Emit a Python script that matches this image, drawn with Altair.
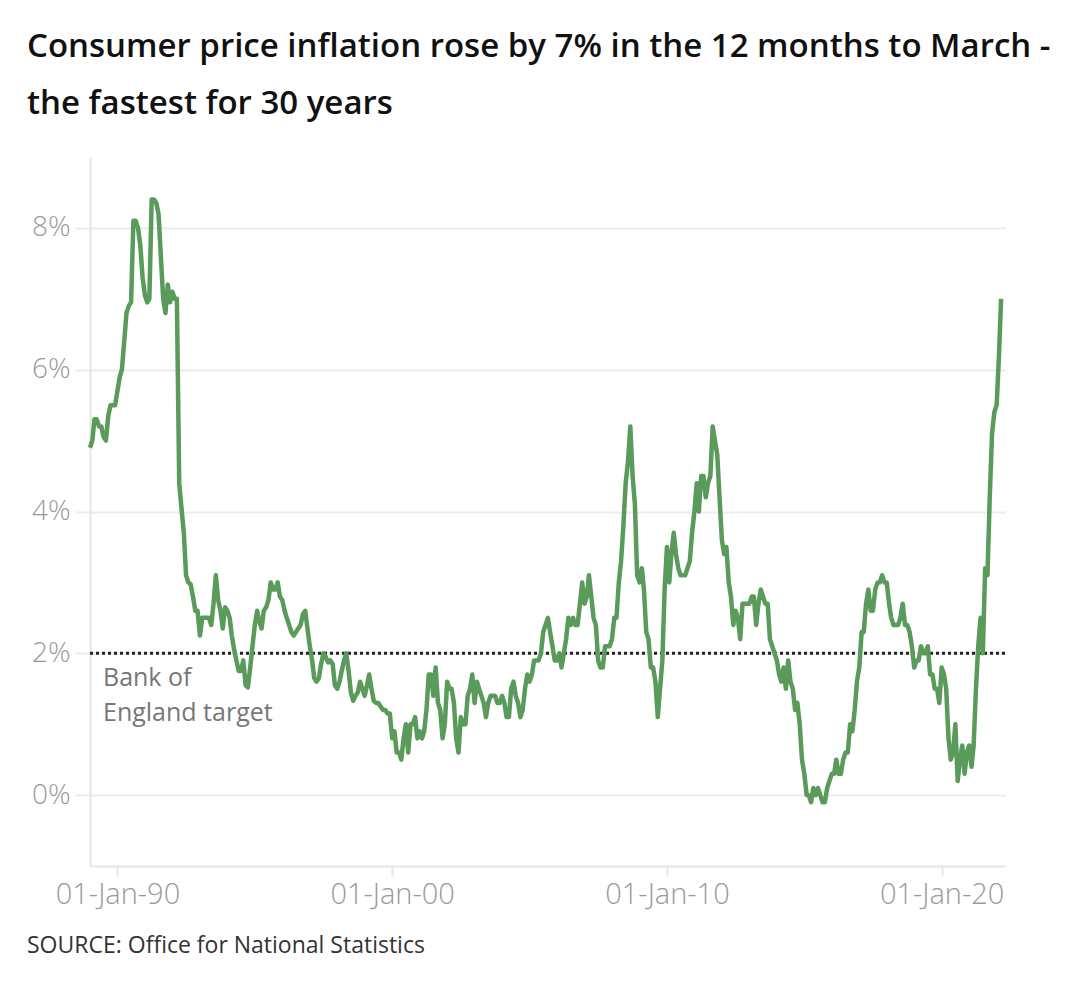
import altair as alt
import pandas as pd

# Annual CPI inflation rate (%), monthly
cpi_1989_1999 = [
    4.9, 5.0, 5.3, 5.3, 5.2, 5.2, 5.05, 5.0, 5.35, 5.5, 5.5, 5.5,      # 1989
    5.7, 5.9, 6.0, 6.4, 6.8, 6.9, 6.95, 8.1, 8.1, 8.0, 7.75, 7.3,      # 1990
    7.05, 6.95, 7.0, 8.4, 8.4, 8.35, 8.2, 7.6, 7.0, 6.8, 7.2, 6.95,    # 1991
    7.1, 7.0, 7.0, 4.4, 4.05, 3.7, 3.1, 3.0, 2.97, 2.8, 2.6, 2.6,      # 1992
    2.25, 2.5, 2.5, 2.5, 2.5, 2.4, 2.7, 3.1, 2.75, 2.6, 2.35, 2.65,    # 1993
    2.6, 2.5, 2.25, 2.05, 1.9, 1.75, 1.75, 1.9, 1.55, 1.52, 1.8, 2.1,  # 1994
    2.4, 2.6, 2.45, 2.35, 2.6, 2.65, 2.75, 3.0, 2.9, 2.9, 3.0, 2.8,    # 1995
    2.75, 2.6, 2.5, 2.4, 2.3, 2.25, 2.3, 2.35, 2.4, 2.55, 2.6, 2.35,   # 1996
    2.1, 1.9, 1.65, 1.6, 1.65, 1.85, 2.0, 1.95, 1.87, 1.9, 1.85, 1.55, # 1997
    1.5, 1.6, 1.75, 1.9, 2.0, 1.75, 1.45, 1.33, 1.4, 1.45, 1.6, 1.5,   # 1998
    1.4, 1.55, 1.7, 1.5, 1.33, 1.3, 1.3, 1.25, 1.2, 1.2, 1.15, 1.15,   # 1999
]
cpi_2000_2009 = [
    0.8, 0.9, 0.6, 0.6, 0.5, 0.8, 1.0, 0.6, 1.0, 1.0, 1.1, 0.8,  # 2000
    0.9, 0.8, 0.9, 1.2, 1.7, 1.7, 1.4, 1.8, 1.3, 1.2, 0.8, 1.0,  # 2001
    1.6, 1.5, 1.5, 1.3, 0.8, 0.6, 1.1, 1.0, 1.0, 1.4, 1.5, 1.7,  # 2002
    1.3, 1.6, 1.5, 1.4, 1.3, 1.1, 1.3, 1.4, 1.4, 1.4, 1.3, 1.3,  # 2003
    1.4, 1.3, 1.1, 1.1, 1.5, 1.6, 1.4, 1.3, 1.1, 1.2, 1.5, 1.7,  # 2004
    1.6, 1.7, 1.9, 1.9, 1.9, 2.0, 2.3, 2.4, 2.5, 2.3, 2.1, 1.9,  # 2005
    1.9, 2.0, 1.8, 2.0, 2.2, 2.5, 2.4, 2.5, 2.4, 2.4, 2.7, 3.0,  # 2006
    2.7, 2.8, 3.1, 2.8, 2.5, 2.4, 1.9, 1.8, 1.8, 2.1, 2.1, 2.1,  # 2007
    2.2, 2.5, 2.5, 3.0, 3.3, 3.8, 4.4, 4.7, 5.2, 4.5, 4.1, 3.1,  # 2008
    3.0, 3.2, 2.9, 2.3, 2.2, 1.8, 1.8, 1.6, 1.1, 1.5, 1.9, 2.9,  # 2009
]
cpi_2010_2022 = [
    3.5, 3.0, 3.4, 3.7, 3.4, 3.2, 3.1, 3.1, 3.1, 3.2, 3.3, 3.7,       # 2010
    4.0, 4.4, 4.0, 4.5, 4.5, 4.2, 4.4, 4.5, 5.2, 5.0, 4.8, 4.2,       # 2011
    3.6, 3.4, 3.5, 3.0, 2.8, 2.4, 2.6, 2.5, 2.2, 2.7, 2.7, 2.7,       # 2012
    2.7, 2.8, 2.8, 2.4, 2.7, 2.9, 2.8, 2.7, 2.7, 2.2, 2.1, 2.0,       # 2013
    1.9, 1.7, 1.6, 1.8, 1.5, 1.9, 1.6, 1.5, 1.2, 1.3, 1.0, 0.5,       # 2014
    0.3, 0.0, 0.0, -0.1, 0.1, 0.0, 0.1, 0.0, -0.1, -0.1, 0.1, 0.2,    # 2015
    0.3, 0.3, 0.5, 0.3, 0.3, 0.5, 0.6, 0.6, 1.0, 0.9, 1.2, 1.6,       # 2016
    1.8, 2.3, 2.3, 2.7, 2.9, 2.6, 2.6, 2.9, 3.0, 3.0, 3.1, 3.0,       # 2017
    3.0, 2.7, 2.5, 2.4, 2.4, 2.4, 2.5, 2.7, 2.4, 2.4, 2.3, 2.1,       # 2018
    1.8, 1.9, 1.9, 2.1, 2.0, 2.0, 2.1, 1.7, 1.7, 1.5, 1.5, 1.3,       # 2019
    1.8, 1.7, 1.5, 0.8, 0.5, 0.6, 1.0, 0.2, 0.5, 0.7, 0.3, 0.6,       # 2020
    0.7, 0.4, 0.7, 1.5, 2.1, 2.5, 2.0, 3.2, 3.1, 4.2, 5.1, 5.4,       # 2021
    5.5, 6.2, 7.0,                                                    # 2022
]
first_month = "1989-01-01"
target_rate = [2.0]
y_ticks = [0, 2, 4, 6, 8]
x_tick_years = [1990, 2000, 2010, 2020]
annotation_text = ["Bank of\nEngland target"]
source_text = ["SOURCE: Office for National Statistics"]
title_lines = [
    "Consumer price inflation rose by 7% in the 12 months to March -",
    "the fastest for 30 years",
]

values = cpi_1989_1999 + cpi_2000_2009 + cpi_2010_2022
dates = pd.date_range(first_month, periods=len(values), freq="MS")
df = pd.DataFrame({"date": dates.strftime("%Y-%m-%d"), "cpi": values})

FONT = "Open Sans"
GREY_LINE = "#e6e6e6"

x_enc = alt.X(
    "date:T",
    scale=alt.Scale(
        type="utc",
        domain=[
            alt.DateTime(year=1989, month=1, date=1, utc=True),
            alt.DateTime(year=2022, month=4, date=22, utc=True),
        ],
    ),
    axis=alt.Axis(
        values=[alt.DateTime(year=y, month=1, date=1, utc=True) for y in x_tick_years],
        labelExpr="utcFormat(datum.value, '%d-%b-%y')",
        grid=False,
        domainColor=GREY_LINE,
        domainWidth=2,
        tickColor=GREY_LINE,
        tickWidth=2,
        tickSize=10,
        labelPadding=4,
        labelFont=FONT,
        labelFontSize=29,
        labelFontWeight=300,
        labelColor="#9a9a9a",
        title=None,
    ),
)
y_scale = alt.Scale(domain=[-1, 9], nice=False, zero=False)

line = (
    alt.Chart(df)
    .mark_line(color="#5a9a5a", strokeWidth=4.5, strokeJoin="round")
    .encode(
        x=x_enc,
        y=alt.Y(
            "cpi:Q",
            scale=y_scale,
            axis=alt.Axis(
                values=y_ticks,
                labelExpr="datum.value + '%'",
                grid=True,
                gridColor="#ececec",
                gridWidth=2,
                domainColor=GREY_LINE,
                domainWidth=2,
                tickColor="#ececec",
                tickWidth=2,
                tickSize=15,
                labelPadding=5,
                labelFont=FONT,
                labelFontSize=28,
                labelFontWeight=300,
                labelColor="#9a9a9a",
                title=None,
            ),
        ),
    )
)

rule = (
    alt.Chart(pd.DataFrame({"target": target_rate}))
    .mark_rule(color="#222222", strokeWidth=3, strokeDash=[3, 3])
    .encode(y=alt.Y("target:Q", scale=y_scale))
)

note = (
    alt.Chart(pd.DataFrame({"label": annotation_text}))
    .mark_text(
        align="left", baseline="middle", lineBreak="\n", lineHeight=35,
        font=FONT, fontSize=25, color="#777777",
    )
    .encode(text="label:N", x=alt.value(13), y=alt.value(521))
)

source = (
    alt.Chart(pd.DataFrame({"label": source_text}))
    .mark_text(
        align="left", baseline="middle", font=FONT, fontSize=23, color="#333333",
    )
    .encode(text="label:N", x=alt.value(-63), y=alt.value(789))
)

chart = (
    alt.layer(rule, line, note, source)
    .properties(
        width=915,
        height=709,
        autosize=alt.AutoSizeParams(type="none"),
        padding={"left": 82, "top": 149, "right": 60, "bottom": 100},
        title=alt.TitleParams(
            text=title_lines,
            anchor="start",
            frame="group",
            dx=-63,
            offset=3,
            baseline="bottom",
            font=FONT,
            fontSize=33,
            fontWeight=600,
            color="#111111",
            lineHeight=57,
        ),
    )
    .configure_view(stroke=None)
)

chart.save("out.html", embed_options={"renderer": "svg", "actions": False})
